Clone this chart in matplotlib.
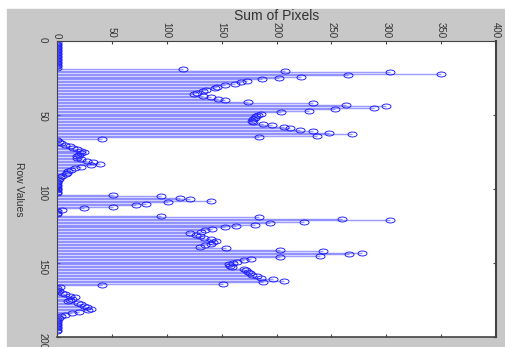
import numpy as np
import matplotlib; matplotlib.use("Agg")
import matplotlib.pyplot as plt
from matplotlib.path import Path
from matplotlib.transforms import Affine2D
from matplotlib.patches import Rectangle

# row index -> sum of pixels in that row
row_values = list(range(1, 197))
pixel_sums = (
    [0]*18
    + [115, 208, 303, 350, 265, 222, 202, 187, 173, 168, 162, 153, 146, 144, 136, 133,
       128, 125, 133, 140, 147, 153, 174, 233, 263, 300, 289, 253, 230, 204, 186, 183,
       181, 180, 179, 178, 179, 188, 196, 207, 212, 221, 233, 248, 269, 237, 184, 41]
    + [0, 2, 4, 7, 12, 15, 18, 22, 25, 22, 20, 18, 18, 22, 27, 33, 39, 31, 22, 16,
       13, 10, 9, 8, 5, 3, 2, 1] + [0]*9
    + [51, 95, 112, 121, 140, 101, 81, 72, 51, 25, 5, 0, 0, 0]
    + [95, 184, 260, 303, 225, 194, 180, 163, 153, 141, 135, 131, 121, 127, 130, 134,
       140, 145, 142, 140, 135, 130, 154, 203, 242, 278, 266, 240, 203, 177, 170, 164,
       160, 157, 158, 159, 170, 172, 174, 176, 178, 182, 186, 197, 207, 188, 151, 41]
    + [3, 0, 0, 2, 5, 7, 12, 16, 14, 12, 10, 19, 22, 25, 27, 31, 28, 20, 14, 7, 4, 2]
    + [0]*9
)
sum_ticks = [0, 50, 100, 150, 200, 250, 300, 350, 400]
row_ticks = [0, 50, 100, 150, 200]

plt.rcParams["font.family"] = ["Liberation Sans", "DejaVu Sans"]
TXT = "#333333"

fig = plt.figure(figsize=(5.05, 3.47), dpi=100)
fig.patch.set_facecolor("white")
fig.patches.append(Rectangle((7/505, 0), 1, 338/347, transform=fig.transFigure,
                             color="#c8c8c8", zorder=-10))
ax = fig.add_axes([57/505, 10/347, 439/505, 296/347])
ax.set_facecolor("white")

# squashed circle, the picture is stretched sideways
ell = Path.unit_circle().transformed(Affine2D().scale(1.0, 0.55))

ax.hlines(row_values, 0, pixel_sums, color=(0.3, 0.3, 1.0), alpha=0.55, lw=1.05)
ax.plot(pixel_sums, row_values, ls="none", marker=ell, ms=6.5, mfc="none",
        mec=(0.1, 0.1, 1.0), mew=0.65)
ax.axvline(0, color="#333333", lw=1.2)

ax.set_xlim(0, 400)
ax.set_ylim(200, 0)
ax.set_xticks(sum_ticks)
ax.set_yticks(row_ticks)
ax.xaxis.set_label_position("top")
ax.tick_params(top=True, bottom=True, left=True, right=True,
               labeltop=True, labelbottom=False, direction="in",
               length=2.5, width=0.8, color="#444444", labelcolor=TXT, labelsize=7)
ax.tick_params(axis="x", pad=2)
ax.tick_params(axis="y", pad=7)
for lab in ax.get_xticklabels() + ax.get_yticklabels():
    lab.set_rotation(270)
ax.set_xlabel("Sum of Pixels", fontsize=10, color=TXT, labelpad=1.5)
ax.set_ylabel("Row Values", fontsize=7.5, color=TXT, rotation=270, labelpad=13, va="center")
for s in ax.spines.values():
    s.set_color("#444444"); s.set_linewidth(0.8)
ax.spines["right"].set_linewidth(1.5)
ax.spines["bottom"].set_linewidth(1.2)

fig.savefig("out.png", dpi=100)
print("saved")
